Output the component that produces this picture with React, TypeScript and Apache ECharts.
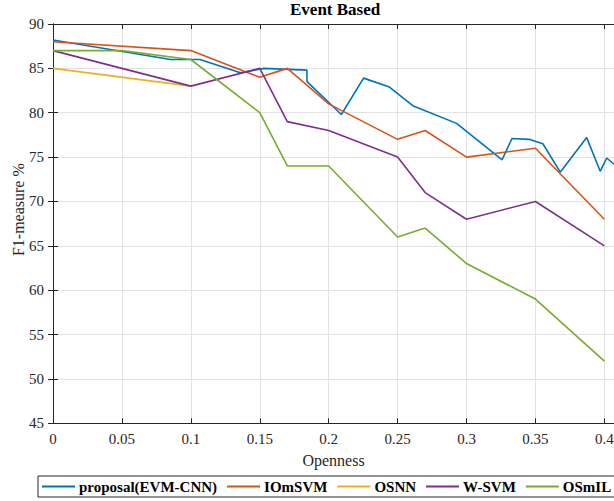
import React, { useEffect, useRef } from "react";
import * as echarts from "echarts";

const seriesNames = ["proposal(EVM-CNN)", "IOmSVM", "OSNN", "W-SVM", "OSmIL"];
const colors = ["#0072BD", "#D95319", "#EDB120", "#7E2F8E", "#77AC30"];

const proposalX = [0, 0.0854, 0.1066, 0.136, 0.153, 0.1842, 0.1843, 0.2092, 0.2253, 0.2441, 0.261, 0.2928, 0.3258, 0.333, 0.3453, 0.3554, 0.368, 0.3872, 0.397, 0.4017, 0.407];
const proposalY = [88.2, 86.0, 86.0, 84.5, 85.0, 84.8, 83.5, 79.8, 83.9, 82.9, 80.8, 78.8, 74.7, 77.1, 77.0, 76.5, 73.3, 77.2, 73.4, 74.9, 74.2];

const iomsvmX = [0, 0.1, 0.15, 0.17, 0.2, 0.25, 0.27, 0.3, 0.35, 0.4];
const iomsvmY = [88, 87, 84, 85, 81, 77, 78, 75, 76, 68];

const osnnX = [0, 0.1];
const osnnY = [85, 83];

const wsvmX = [0, 0.1, 0.15, 0.17, 0.2, 0.25, 0.27, 0.3, 0.35, 0.4];
const wsvmY = [87, 83, 85, 79, 78, 75, 71, 68, 70, 65];

const osmilX = [0, 0.05, 0.1, 0.15, 0.17, 0.2, 0.25, 0.27, 0.3, 0.35, 0.4];
const osmilY = [87, 87, 86, 80, 74, 74, 66, 67, 63, 59, 52];

const xMin = 0;
const xMax = 0.407;
const xInterval = 0.05;
const yMin = 45;
const yMax = 90;
const yInterval = 5;

const FONT = "'Liberation Serif', 'Times New Roman', serif";
const AXIS_COLOR = "#262626";
const GRID_COLOR = "#e3e3e3";

const zip = (xs: number[], ys: number[]) => xs.map((x, i) => [x, ys[i]]);

export default function App() {
  const ref = useRef<HTMLDivElement>(null);

  useEffect(() => {
    if (!ref.current) return;
    const chart = echarts.init(ref.current, undefined, { renderer: "svg" });
    const allData = [
      zip(proposalX, proposalY),
      zip(iomsvmX, iomsvmY),
      zip(osnnX, osnnY),
      zip(wsvmX, wsvmY),
      zip(osmilX, osmilY),
    ];
    const axisLine = { show: true, lineStyle: { color: AXIS_COLOR, width: 1 } };
    const axisTick = { show: true, inside: true, length: 5, lineStyle: { color: AXIS_COLOR, width: 1 } };
    chart.setOption({
      animation: false,
      backgroundColor: "#ffffff",
      title: {
        text: "Event Based",
        left: 290,
        top: 1,
        padding: 0,
        textStyle: { fontFamily: FONT, fontWeight: "bold", fontSize: 17, color: "#000" },
      },
      grid: { left: 53, right: 0, top: 24, bottom: 77.7, containLabel: false, outerBoundsMode: "none" },
      legend: {
        data: seriesNames,
        left: 38,
        top: 476,
        width: 900,
        orient: "horizontal",
        icon: "rect",
        itemWidth: 33,
        itemHeight: 2,
        itemGap: 10,
        padding: [3, 4, 3, 4],
        borderColor: AXIS_COLOR,
        borderWidth: 1,
        backgroundColor: "#fff",
        textStyle: { fontFamily: FONT, fontWeight: "bold", fontSize: 15, color: "#000", padding: [0, 0, 0, -1] },
      },
      xAxis: [
        {
          type: "value",
          position: "bottom",
          min: xMin,
          max: xMax,
          interval: xInterval,
          name: "Openness",
          nameLocation: "middle",
          nameGap: 29,
          nameMoveOverlap: false,
          nameTextStyle: { fontFamily: FONT, fontSize: 16, color: AXIS_COLOR },
          axisLine,
          axisTick,
          axisLabel: {
            showMaxLabel: false,
            margin: 8,
            fontFamily: FONT,
            fontSize: 15,
            color: AXIS_COLOR,
            formatter: (v: number) => String(+v.toFixed(2)),
          },
          splitLine: { show: true, lineStyle: { color: GRID_COLOR, width: 1 } },
        },
        {
          type: "value",
          position: "top",
          min: xMin,
          max: xMax,
          interval: xInterval,
          axisLine,
          axisTick,
          axisLabel: { show: false },
          splitLine: { show: false },
        },
      ],
      yAxis: [
        {
          type: "value",
          position: "left",
          min: yMin,
          max: yMax,
          interval: yInterval,
          name: "F1-measure %",
          nameLocation: "middle",
          nameGap: 27,
          nameMoveOverlap: false,
          nameTextStyle: { fontFamily: FONT, fontSize: 16, color: AXIS_COLOR, padding: [0, 0, 0, 28] },
          axisLine,
          axisTick,
          axisLabel: { margin: 9, fontFamily: FONT, fontSize: 15, color: AXIS_COLOR },
          splitLine: { show: true, lineStyle: { color: GRID_COLOR, width: 1 } },
        },
        {
          type: "value",
          position: "right",
          min: yMin,
          max: yMax,
          interval: yInterval,
          axisLine,
          axisTick,
          axisLabel: { show: false },
          splitLine: { show: false },
        },
      ],
      series: seriesNames.map((name, i) => ({
        name,
        type: "line",
        xAxisIndex: 0,
        yAxisIndex: 0,
        data: allData[i],
        showSymbol: false,
        symbol: "none",
        color: colors[i],
        lineStyle: { color: colors[i], width: 1.6 },
        clip: true,
      })),
    });
    return () => chart.dispose();
  }, []);

  return (
    <div
      ref={ref}
      style={{ position: "fixed", left: 0, top: 0, width: 614, height: 501, background: "#fff" }}
    />
  );
}
